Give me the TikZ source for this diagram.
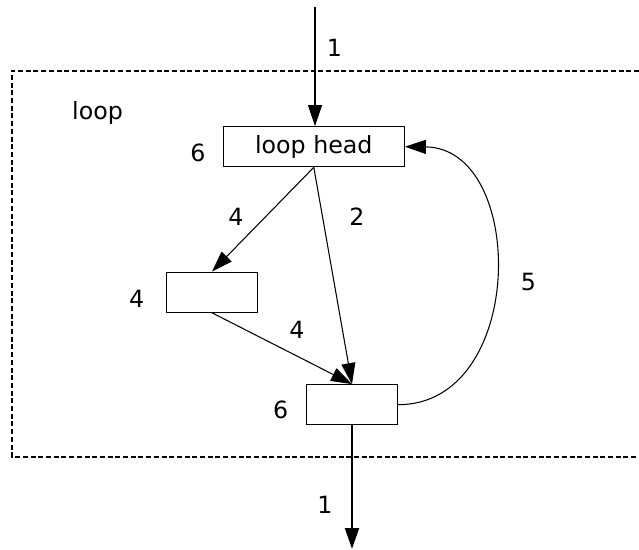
\documentclass[tikz,border=0pt]{standalone}
\usepackage{fontspec}
\setmainfont{DejaVu Sans}
\usetikzlibrary{arrows.meta}

\def\px{0.02cm}
\tikzstyle{blk}=[rectangle,draw,line width=0.7pt,inner sep=0pt]
\tikzstyle{lbl}=[inner sep=0pt]
\tikzstyle{flow}=[-{Triangle[length=0.42cm,width=0.28cm]},line width=0.6pt]
\tikzstyle{frame}=[line width=1pt,dash pattern=on 0.1cm off 0.054cm]

\begin{document}
\begin{tikzpicture}[x=\px,y=-\px,font=\fontsize{13.5pt}{16pt}\selectfont]
			\useasboundingbox (0,0) rectangle (639,550);
			% loop region, open to the right
			\draw[frame] (639,70.7) -- (12,70.7) -- (12,456.7) -- (639,456.7);
			\node[lbl](name) at (97.5,113){loop};
			% blocks
			\node[blk,minimum width=3.62cm,minimum height=0.8cm](head) at (313.8,146.7){loop head};
			\node[blk,minimum width=1.81cm,minimum height=0.8cm](body) at (212,292.2){};
			\node[blk,minimum width=1.81cm,minimum height=0.8cm](latch) at (352,404.7){};
			\coordinate(in) at (315,7.5);
			\coordinate(out) at (352,549);
			% edges
			\draw[flow](in)--(in|-head.north);
			\draw[flow](head.south)--(body.north);
			\draw[flow](head.south)--(latch.north);
			\draw[flow](body.south)--(latch.north);
			\draw[flow](latch.east) .. controls (527,405) and (527,148) .. (head.east);
			\draw[flow,line width=1.1pt](latch.south)--(out);
			% counts
			\node[lbl](c1) at (334.5,48){1};
			\node[lbl](c2) at (198,153){6};
			\node[lbl](c3) at (236,217){4};
			\node[lbl](c4) at (357,217){2};
			\node[lbl](c5) at (136.7,299){4};
			\node[lbl](c6) at (297,330){4};
			\node[lbl](c7) at (528.3,281.7){5};
			\node[lbl](c8) at (280.7,410){6};
			\node[lbl](c9) at (325,505){1};
		\end{tikzpicture}
\end{document}
